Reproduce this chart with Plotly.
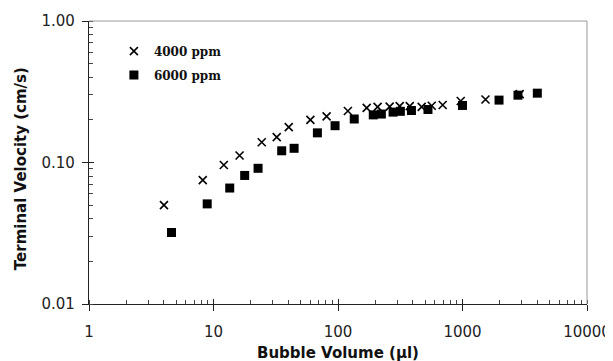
import plotly.graph_objects as go

# ---- data ----
vol_4000 = [4.0, 8.2, 12.1, 16.2, 24.4, 32.2, 40.2, 60, 81, 120, 170, 208, 260,
            313, 377, 470, 566, 693, 968, 1530, 2880]
vel_4000 = [0.050, 0.075, 0.096, 0.112, 0.139, 0.151, 0.178, 0.200, 0.212, 0.231,
            0.243, 0.247, 0.248, 0.250, 0.250, 0.247, 0.252, 0.255, 0.272, 0.279, 0.304]

vol_6000 = [4.6, 8.9, 13.5, 17.8, 22.8, 35.3, 44.4, 68.3, 94.7, 135, 192, 223, 277,
            317, 389, 528, 1000, 1965, 2790, 3990]
vel_6000 = [0.032, 0.051, 0.066, 0.081, 0.091, 0.121, 0.126, 0.162, 0.182, 0.203,
            0.217, 0.220, 0.227, 0.230, 0.233, 0.237, 0.253, 0.276, 0.299, 0.309]

x_ticks = [1, 10, 100, 1000, 10000]
x_ticklabels = ["1", "10", "100", "1000", "10000"]
y_ticks = [0.01, 0.1, 1]
y_ticklabels = ["0.01", "0.10", "1.00"]

names = ["4000 ppm", "6000 ppm"]

TICKFONT = dict(family="DejaVu Sans", size=15, color="#222222")
TITLEFONT = dict(family="DejaVu Sans", size=15, color="#111111", weight="bold")

fig = go.Figure()
fig.add_trace(go.Scatter(
    x=vol_4000, y=vel_4000, mode="markers", name=names[0], legendgroup="a",
    marker=dict(symbol="x-thin", size=8, color="black",
                line=dict(color="black", width=1.6)),
))
fig.add_trace(go.Scatter(
    x=vol_6000, y=vel_6000, mode="markers", name=names[1], legendgroup="b",
    marker=dict(symbol="square", size=9, color="black",
                line=dict(color="black", width=0)),
))

# page body has an 8px margin: the figure is sized to fit the window
fig.update_layout(
    width=605, height=353,
    margin=dict(l=81, r=26, t=13, b=57),
    paper_bgcolor="white", plot_bgcolor="white",
    showlegend=True,
    legend=dict(
        x=0.050, y=0.945, xanchor="left", yanchor="top",
        font=dict(family="DejaVu Serif", size=12, color="#111111", weight="bold"),
        bgcolor="rgba(0,0,0,0)", borderwidth=0,
        tracegroupgap=5, traceorder="grouped", itemwidth=30,
    ),
    xaxis=dict(
        type="log", range=[0, 4], automargin=False,
        tickmode="array", tickvals=x_ticks, ticktext=x_ticklabels,
        ticks="outside", ticklen=6, tickwidth=1, tickcolor="#222222",
        tickfont=TICKFONT, ticklabelstandoff=8,
        minor=dict(ticks="inside", ticklen=4, tickwidth=1, tickcolor="#444444",
                   dtick="D1", showgrid=False),
        showline=True, linecolor="#222222", linewidth=1.3,
        showgrid=False, zeroline=False,
    ),
    yaxis=dict(
        type="log", range=[-2, 0], automargin=False,
        tickmode="array", tickvals=y_ticks, ticktext=y_ticklabels,
        ticks="outside", ticklen=6, tickwidth=1, tickcolor="#222222",
        tickfont=TICKFONT, ticklabelstandoff=4,
        minor=dict(ticks="inside", ticklen=4, tickwidth=1, tickcolor="#444444",
                   dtick="D1", showgrid=False),
        showline=True, linecolor="#222222", linewidth=1.3,
        showgrid=False, zeroline=False,
    ),
    xaxis2=dict(
        type="log", range=[0, 4], overlaying="x", anchor="y", automargin=False,
        tickmode="array", tickvals=x_ticks, ticks="inside", ticklen=5,
        tickwidth=1, tickcolor="#222222", showticklabels=False,
        showline=False, showgrid=False, zeroline=False,
    ),
    yaxis2=dict(
        type="log", range=[-2, 0], overlaying="y", anchor="x", side="left",
        automargin=False,
        tickmode="array", tickvals=y_ticks, ticks="inside", ticklen=5,
        tickwidth=1, tickcolor="#222222", showticklabels=False,
        showline=False, showgrid=False, zeroline=False,
    ),
    shapes=[
        dict(type="line", xref="paper", yref="paper", x0=0, x1=1, y0=1, y1=1,
             line=dict(color="#9a9a9a", width=1)),
        dict(type="line", xref="paper", yref="paper", x0=1, x1=1, y0=0, y1=1,
             line=dict(color="#9a9a9a", width=1)),
    ],
    annotations=[
        dict(text="Bubble Volume (µl)", xref="paper", yref="paper",
             x=0.5, y=0, yshift=-49, xanchor="center", yanchor="middle",
             showarrow=False, font=TITLEFONT),
        dict(text="Terminal Velocity (cm/s)", xref="paper", yref="paper",
             x=0, xshift=-68, y=0.4765, xanchor="center", yanchor="middle",
             textangle=-90, showarrow=False, font=TITLEFONT),
    ],
)

# invisible helper traces so the overlay axes (inner halves of major ticks) are drawn
fig.add_trace(go.Scatter(x=[1], y=[0.01], xaxis="x2", yaxis="y", mode="markers",
                         marker=dict(opacity=0), showlegend=False, hoverinfo="skip"))
fig.add_trace(go.Scatter(x=[1], y=[0.01], xaxis="x", yaxis="y2", mode="markers",
                         marker=dict(opacity=0), showlegend=False, hoverinfo="skip"))

fig.write_html("out.html")
